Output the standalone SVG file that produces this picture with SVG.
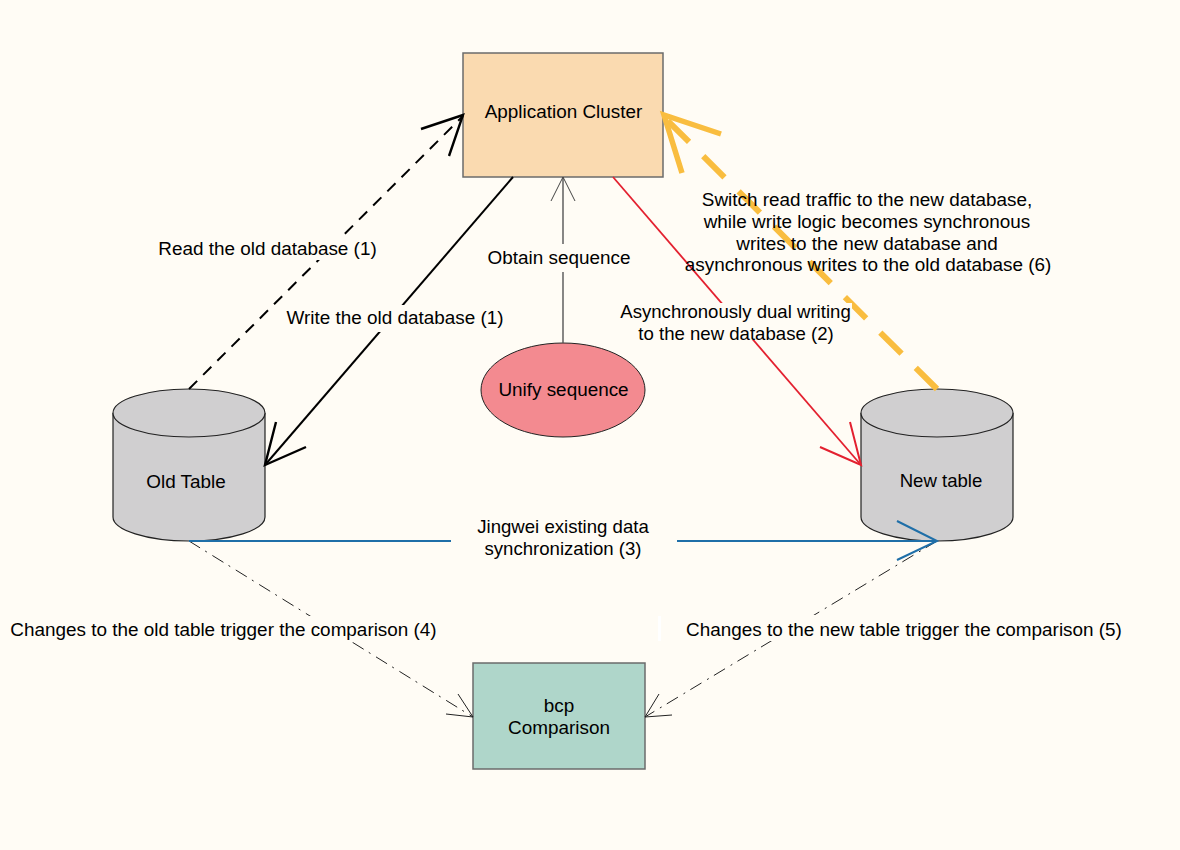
<svg xmlns="http://www.w3.org/2000/svg" width="1180" height="850" viewBox="0 0 1180 850">
  <style>
    text { font-family: "Liberation Sans", Arial, sans-serif; font-size: 18.9px; fill: #000; text-anchor: middle; }
    text.tight { font-size: 18.6px; }
    .box { stroke: #6b6b6b; stroke-width: 1.5; }
    .can { fill: #d0cfd0; stroke: #222; stroke-width: 1.2; }
    .link { fill: none; stroke-linecap: butt; }
    .plate { fill: #fffcf5; }
  </style>
  <rect width="1180" height="850" fill="#fffcf5"/>

  <g id="cluster">
    <rect class="box" x="463" y="53" width="200" height="124" fill="#fadab0"/>
    <text x="563.5" y="118">Application Cluster</text>
  </g>
  <g id="sequence">
    <ellipse cx="563" cy="390" rx="82" ry="47" fill="#f38a90" stroke="#222" stroke-width="1"/>
    <text x="563.5" y="396">Unify sequence</text>
  </g>
  <g id="old-table">
    <path class="can" d="M113 413V517C113 530 147 541 189 541C231 541 265 530 265 517V413"/>
    <ellipse class="can" cx="189" cy="413" rx="76" ry="24"/>
    <text x="186" y="488">Old Table</text>
  </g>
  <g id="new-table">
    <path class="can" d="M861 413V517C861 530 895 541 937 541C979 541 1013 530 1013 517V413"/>
    <ellipse class="can" cx="937" cy="413" rx="76" ry="24"/>
    <text class="tight" x="941" y="487">New table</text>
  </g>
  <g id="comparison">
    <rect class="box" x="473" y="663" width="172" height="106" fill="#afd6ca"/>
    <text x="559" y="712">bcp</text>
    <text x="559" y="734">Comparison</text>
  </g>

  <g id="connectors">
    <!-- read and write against the old table -->
    <path class="link" d="M189 389L463 116" stroke="#000" stroke-width="2" stroke-dasharray="11.5 8.5"/>
    <path class="link" d="M421 129L463 115L449 156" stroke="#000" stroke-width="2.4"/>
    <path class="link" d="M513 177L265 465" stroke="#000" stroke-width="2"/>
    <path class="link" d="M276 422L265 465L306 447" stroke="#000" stroke-width="2.4"/>
    <!-- sequence lookup -->
    <path class="link" d="M563 343V177" stroke="#555" stroke-width="1.4"/>
    <path class="link" d="M551 201L563 177L575 201" stroke="#444" stroke-width="1"/>
    <!-- dual write -->
    <path class="link" d="M613 177L861 465" stroke="#e3202f" stroke-width="1.8"/>
    <path class="link" d="M850 422L861 465L820 447" stroke="#e3202f" stroke-width="2"/>
    <!-- read switch -->
    <path class="link" d="M937 389L663 116" stroke="#f9bd3f" stroke-width="6" stroke-dasharray="30 20"/>
    <path class="link" d="M721 134L664 115L682 173" stroke="#f9bd3f" stroke-width="5.5" stroke-linecap="round"/>
    <!-- comparison triggers -->
    <path class="link" d="M189 541L473 717" stroke="#222" stroke-width="1" stroke-dasharray="13 6 2 6.5"/>
    <path class="link" d="M458 694L473 717L446 714" stroke="#222" stroke-width="1"/>
    <path class="link" d="M937 541L645 717" stroke="#222" stroke-width="1" stroke-dasharray="13 6 2 6.5"/>
    <path class="link" d="M659 694L645 717L672 715" stroke="#222" stroke-width="1"/>
    <!-- existing data sync -->
    <path class="link" d="M189 541H937" stroke="#1f6fa8" stroke-width="2"/>
    <path class="link" d="M897 521L937 541L897 560" stroke="#1f6fa8" stroke-width="2"/>
  </g>

  <g id="labels">
    <rect class="plate" x="159" y="239" width="219" height="21"/>
    <rect class="plate" x="286" y="305" width="218" height="27"/>
    <rect class="plate" x="487" y="244" width="144" height="28"/>
    <rect class="plate" x="620" y="303" width="232" height="37"/>
    <rect class="plate" x="451" y="514" width="226" height="48"/>
    <rect class="plate" x="10" y="616" width="428" height="26"/>
    <rect class="plate" x="687" y="615" width="436" height="26"/>
    <rect x="658" y="616" width="3" height="25" fill="#fff"/>
    <text x="267.5" y="255">Read the old database (1)</text>
    <text x="395" y="324">Write the old database (1)</text>
    <text x="559" y="264">Obtain sequence</text>
    <text class="tight" x="735.5" y="318">Asynchronously dual writing</text>
    <text class="tight" x="736" y="340">to the new database (2)</text>
    <text x="867" y="206">Switch read traffic to the new database,</text>
    <text x="867" y="228">while write logic becomes synchronous</text>
    <text x="867" y="250">writes to the new database and</text>
    <text x="868" y="271">asynchronous writes to the old database (6)</text>
    <text class="tight" x="563" y="533">Jingwei existing data</text>
    <text class="tight" x="563" y="555">synchronization (3)</text>
    <text x="223.5" y="636">Changes to the old table trigger the comparison (4)</text>
    <text x="904" y="636">Changes to the new table trigger the comparison (5)</text>
  </g>
</svg>
